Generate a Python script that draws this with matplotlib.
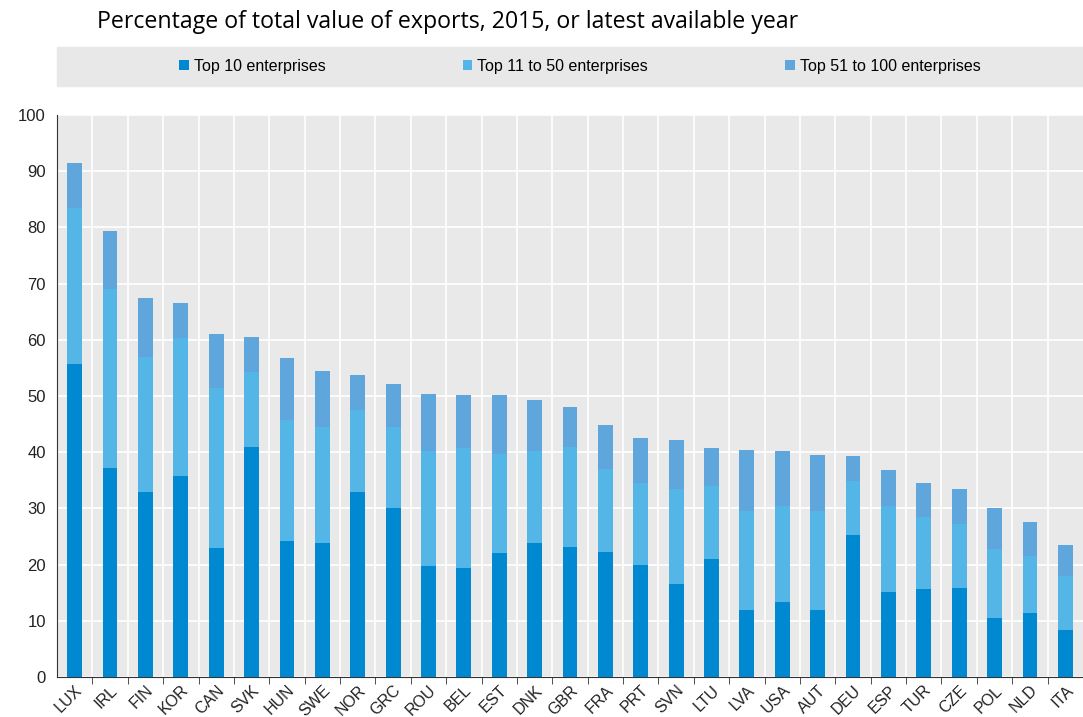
import matplotlib.pyplot as plt
from matplotlib.patches import Rectangle
import numpy as np

countries = ['LUX', 'IRL', 'FIN', 'KOR', 'CAN', 'SVK', 'HUN', 'SWE', 'NOR', 'GRC',
             'ROU', 'BEL', 'EST', 'DNK', 'GBR', 'FRA', 'PRT', 'SVN', 'LTU', 'LVA',
             'USA', 'AUT', 'DEU', 'ESP', 'TUR', 'CZE', 'POL', 'NLD', 'ITA']

# cumulative shares
top10 = [55.7, 37.2, 33.0, 35.7, 22.9, 40.9, 24.2, 23.8, 33.0, 30.0,
         19.7, 19.4, 22.0, 23.8, 23.1, 22.2, 19.9, 16.6, 21.0, 12.0,
         13.3, 12.0, 25.2, 15.1, 15.7, 15.9, 10.5, 11.3, 8.3]
top50 = [83.5, 69.0, 57.0, 60.3, 51.4, 54.2, 45.8, 44.5, 47.5, 44.5,
         40.2, 40.7, 39.6, 40.2, 41.0, 37.0, 34.6, 33.5, 34.0, 29.5,
         30.4, 29.5, 34.8, 30.5, 28.5, 27.3, 22.8, 21.6, 18.0]
top100 = [91.5, 79.3, 67.4, 66.6, 61.1, 60.5, 56.7, 54.5, 53.7, 52.1,
          50.4, 50.2, 50.2, 49.3, 48.0, 44.8, 42.6, 42.2, 40.8, 40.4,
          40.2, 39.5, 39.3, 36.9, 34.5, 33.5, 30.0, 27.6, 23.5]

c10 = '#0088d1'
c50 = '#53b6e6'
c100 = '#5ea6dc'

x = np.arange(len(countries))
top10 = np.array(top10)
top50 = np.array(top50)
top100 = np.array(top100)

fig = plt.figure(figsize=(10.83, 7.17), dpi=100)
ax = fig.add_axes([57 / 1083, 1 - 677 / 717, 1 - 57 / 1083, (677 - 115) / 717])

w = 0.42
ax.bar(x, top10, w, color=c10, label='Top 10 enterprises', zorder=3)
ax.bar(x, top50 - top10, w, bottom=top10, color=c50, label='Top 11 to 50 enterprises', zorder=3)
ax.bar(x, top100 - top50, w, bottom=top50, color=c100, label='Top 51 to 100 enterprises', zorder=3)

ax.set_facecolor('#e9e9e9')
ax.set_xlim(-0.5, len(countries) - 0.5)
ax.set_ylim(0, 100)
ax.set_yticks(range(0, 101, 10))
ax.set_xticks(x)
ax.set_xticklabels(countries, rotation=45, ha='right', rotation_mode='anchor',
                   fontsize=11.5, family='Liberation Sans', color='#222222')
ax.set_xticks(x[:-1] + 0.5, minor=True)
ax.tick_params(axis='x', which='major', length=0, pad=4)
ax.tick_params(axis='x', which='minor', length=5, direction='out', color='#333333')
ax.tick_params(axis='y', length=0, labelsize=12, pad=8, labelcolor='#222222')
for t in ax.get_yticklabels():
    t.set_family('Liberation Sans')

ax.grid(axis='y', color='white', linewidth=1.2, zorder=0)
ax.grid(axis='x', which='minor', color='white', linewidth=1.2, zorder=0)
for s in ['top', 'right']:
    ax.spines[s].set_visible(False)
ax.spines['left'].set_color('#333333')
ax.spines['bottom'].set_color('#333333')

# legend band
fig.patches.append(Rectangle((57 / 1083, 1 - 86 / 717), 1 - 57 / 1083, 39 / 717,
                             transform=fig.transFigure, color='#e8e8e8', zorder=0))
fig.legend(loc='center', bbox_to_anchor=(0.5355, 1 - 66.5 / 717), ncol=3, frameon=False,
           handlelength=0.6, handleheight=0.6, handletextpad=0.3, columnspacing=8.6,
           prop={'family': 'Liberation Sans', 'size': 11.5})

fig.text(97 / 1083, 1 - 22 / 717, 'Percentage of total value of exports, 2015, or latest available year',
         fontsize=16.7, family='Open Sans', va='center', ha='left')

plt.savefig('out.png', dpi=100)
